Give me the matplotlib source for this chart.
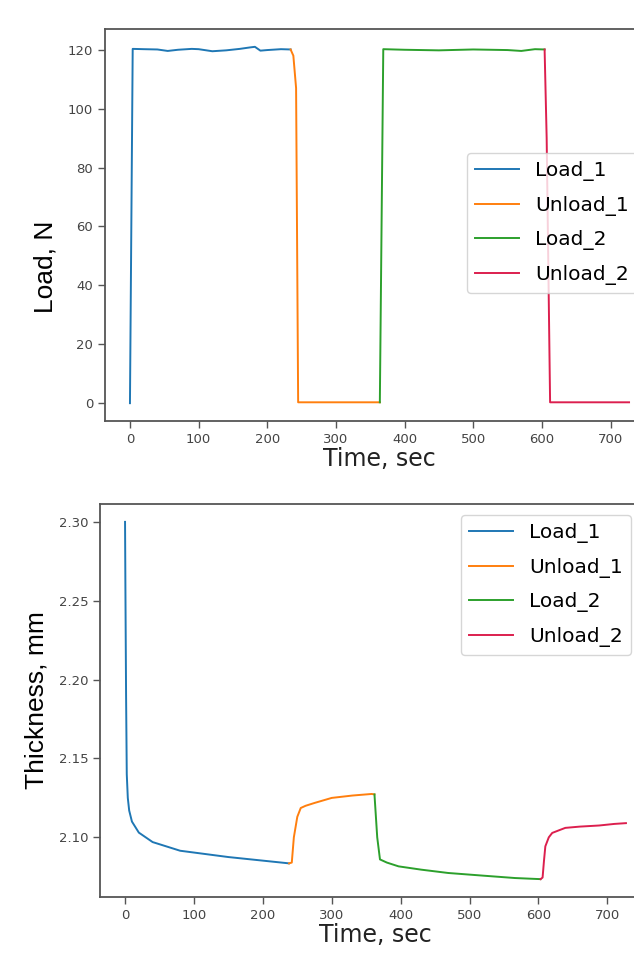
import matplotlib
matplotlib.use("Agg")
import matplotlib.pyplot as plt

# ---- Load (N) vs time (s), four test phases ----
load1_t = [0, 4, 20, 40, 55, 70, 90, 100, 120, 140, 160, 175, 182, 190, 200, 220, 234]
load1_v = [0, 120.3, 120.2, 120.1, 119.6, 120.0, 120.3, 120.2, 119.5, 119.8, 120.3,
           120.8, 121.0, 119.7, 119.9, 120.2, 120.1]
unload1_t = [234, 238, 242, 245, 300, 364]
unload1_v = [120.1, 118.0, 107.0, 0.3, 0.3, 0.3]
load2_t = [364, 369, 400, 450, 500, 550, 570, 590, 604]
load2_v = [0.3, 120.2, 120.0, 119.8, 120.1, 119.9, 119.6, 120.2, 120.1]
unload2_t = [604, 607, 612, 650, 700, 727]
unload2_v = [120.1, 90.0, 0.3, 0.3, 0.3, 0.3]

# ---- Thickness (mm) vs time (s) ----
th_load1_t = [0, 0.5, 1.5, 2.5, 4, 6, 10, 20, 40, 80, 150, 238]
th_load1_v = [2.300, 2.26, 2.19, 2.14, 2.125, 2.117, 2.110, 2.103, 2.097, 2.0915,
              2.0875, 2.0835]
th_unload1_t = [238, 242, 245, 250, 255, 262, 275, 300, 330, 358, 362]
th_unload1_v = [2.0835, 2.084, 2.100, 2.113, 2.1186, 2.120, 2.1218, 2.125, 2.1265,
                2.1275, 2.1272]
th_load2_t = [362, 366, 370, 380, 397, 430, 469, 520, 566, 603]
th_load2_v = [2.1272, 2.100, 2.086, 2.084, 2.0816, 2.0795, 2.0774, 2.0757, 2.0742,
              2.0735]
th_unload2_t = [603, 606, 608, 610, 615, 620, 630, 639, 660, 688, 710, 727]
th_unload2_v = [2.0735, 2.0745, 2.085, 2.0943, 2.100, 2.1028, 2.1045, 2.106, 2.1068,
                2.1075, 2.1085, 2.109]

labels = ["Load_1", "Unload_1", "Load_2", "Unload_2"]
colors = ["#1f77b4", "#ff7f0e", "#2ca02c", "#dc1f4e"]

W, H = 634, 957
fig = plt.figure(figsize=(W / 100, H / 100), dpi=100)


def px_axes(left, top, right, bottom):
    return fig.add_axes([left / W, 1 - bottom / H, (right - left) / W, (bottom - top) / H])


def style(ax):
    for s in ax.spines.values():
        s.set_color("#555555")
        s.set_linewidth(1.3)
    ax.tick_params(labelsize=9.5, colors="#555555", labelcolor="#444444", length=5,
                   width=1.0)


lab_font = dict(family="Liberation Sans", size=19, color="black")
leg_kw = dict(fontsize=14.5, handlelength=2.2, labelspacing=0.72, frameon=True,
              borderaxespad=0.0)

ax1 = px_axes(105, 29, 654, 421)
for t, v, lab, c in zip([load1_t, unload1_t, load2_t, unload2_t],
                        [load1_v, unload1_v, load2_v, unload2_v], labels, colors):
    ax1.plot(t, v, color=c, lw=1.4, label=lab)
style(ax1)
ax1.set_xlabel("Time, sec", fontsize=17, color="#222222", labelpad=1)
ax1.legend(loc="center left", bbox_to_anchor=(0.659, 0.505), **leg_kw)
fig.text(45 / W, 1 - 267 / H, "Load, N", rotation=90, ha="center", va="center",
         **lab_font)

ax2 = px_axes(100, 504, 651, 897)
for t, v, lab, c in zip([th_load1_t, th_unload1_t, th_load2_t, th_unload2_t],
                        [th_load1_v, th_unload1_v, th_load2_v, th_unload2_v], labels, colors):
    ax2.plot(t, v, color=c, lw=1.4, label=lab)
style(ax2)
ax2.set_xlabel("Time, sec", fontsize=17, color="#222222", labelpad=1)
ax2.legend(loc="upper left", bbox_to_anchor=(0.655, 0.972), **leg_kw)
fig.text(37 / W, 1 - 700 / H, "Thickness, mm", rotation=90, ha="center", va="center",
         **lab_font)

fig.savefig("out.png", dpi=100)
